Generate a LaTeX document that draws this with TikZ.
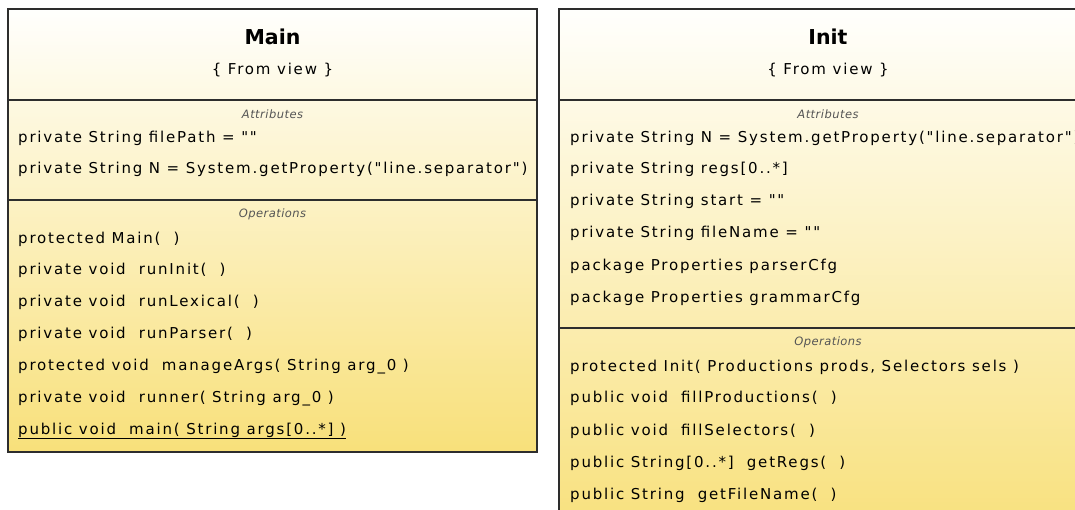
\documentclass[tikz,border=0pt]{standalone}
\usepackage{fontspec}
\setmainfont{DejaVu Sans}
\newfontfamily\bodyfont[LetterSpace=12]{DejaVu Sans}
\newfontfamily\labelfont[LetterSpace=4]{DejaVu Sans}
\definecolor{boxtop}{RGB}{255,255,253}
\definecolor{boxbot}{RGB}{248,224,122}
\definecolor{border}{RGB}{45,45,45}
\definecolor{seclabel}{RGB}{85,85,85}
\tikzset{
  boxline/.style={draw=border, line width=1.3pt},
  boxfill/.style={top color=boxtop, bottom color=boxbot},
  member/.style={anchor=base west, inner sep=0pt, font=\bodyfont\fontsize{15}{18}\selectfont},
  classname/.style={anchor=center, inner sep=0pt, font=\bfseries\fontsize{20.5}{24}\selectfont},
  viewtag/.style={anchor=center, inner sep=0pt, font=\bodyfont\fontsize{15}{18}\selectfont},
  seclbl/.style={anchor=center, inner sep=0pt, text=seclabel, font=\labelfont\itshape\fontsize{11.5}{13}\selectfont},
}
\begin{document}
\begin{tikzpicture}[x=1pt,y=-1pt]
\useasboundingbox (0,0) rectangle (1075,510);
\clip (0,0) rectangle (1075,510);
% ---------------- Main ----------------
\shade[boxfill] (8,9) rectangle (537,452);
\draw[boxline] (8,9) rectangle (537,452);
\draw[boxline] (8,100) -- (537,100);
\draw[boxline] (8,200) -- (537,200);
\node[classname] (mainName) at (272.5,37) {Main};
\node[viewtag] (mainView) at (272.5,70) {\{ From view \}};
\node[seclbl] (mainAttr) at (272.5,114) {Attributes};
\node[member] (mA1) at (18,142.5) {private String filePath = ""};
\node[member] (mA2) at (18,173.5) {private String N = System.getProperty("line.separator")};
\node[seclbl] (mainOps) at (272.5,214) {Operations};
\node[member] (mO1) at (18,243.5) {protected Main(\ \ )};
\node[member] (mO2) at (18,274.5) {private void\ \ runInit(\ \ )};
\node[member] (mO3) at (18,306.5) {private void\ \ runLexical(\ \ )};
\node[member] (mO4) at (18,338.5) {private void\ \ runParser(\ \ )};
\node[member] (mO5) at (18,370.5) {protected void\ \ manageArgs( String arg\_0 )};
\node[member] (mO6) at (18,402.5) {private void\ \ runner( String arg\_0 )};
\node[member] (mO7) at (18,434.5) {public void\ \ main( String args[0..*] )};
\draw[line width=0.9pt] ([yshift=-3.5pt]mO7.base west) -- ([yshift=-3.5pt]mO7.base east);
% ---------------- Init ----------------
\shade[boxfill] (559,9) rectangle (1095,540);
\draw[boxline] (559,9) rectangle (1095,540);
\draw[boxline] (559,100) -- (1095,100);
\draw[boxline] (559,328) -- (1095,328);
\node[classname] (initName) at (828,37) {Init};
\node[viewtag] (initView) at (828,70) {\{ From view \}};
\node[seclbl] (initAttr) at (828,114) {Attributes};
\node[member] (iA1) at (570,142.5) {private String N = System.getProperty("line.separator")};
\node[member] (iA2) at (570,173.5) {private String regs[0..*]};
\node[member] (iA3) at (570,205.5) {private String start = ""};
\node[member] (iA4) at (570,237.5) {private String fileName = ""};
\node[member] (iA5) at (570,270.5) {package Properties parserCfg};
\node[member] (iA6) at (570,302.5) {package Properties grammarCfg};
\node[seclbl] (initOps) at (828,342) {Operations};
\node[member] (iO1) at (570,371.5) {protected Init( Productions prods, Selectors sels )};
\node[member] (iO2) at (570,402.5) {public void\ \ fillProductions(\ \ )};
\node[member] (iO3) at (570,435.5) {public void\ \ fillSelectors(\ \ )};
\node[member] (iO4) at (570,467.5) {public String[0..*]\ \ getRegs(\ \ )};
\node[member] (iO5) at (570,499.5) {public String\ \ getFileName(\ \ )};
\end{tikzpicture}
\end{document}
